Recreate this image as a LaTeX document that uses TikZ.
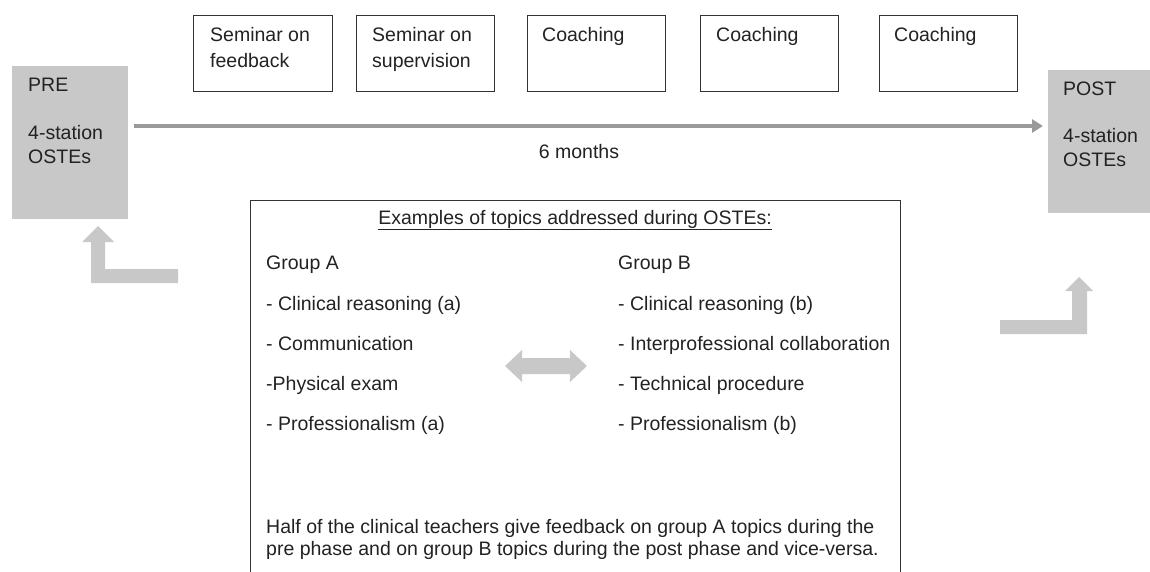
\documentclass[tikz,border=0pt]{standalone}
\usepackage{fontspec}
\setmainfont{Liberation Sans}
\usetikzlibrary{calc,arrows.meta}
\definecolor{boxgray}{HTML}{C8C8C8}
\definecolor{linegray}{HTML}{9A9A9A}
\definecolor{ink}{HTML}{222222}
\definecolor{framecol}{HTML}{333333}
\begin{document}
\begin{tikzpicture}[x=1pt,y=-1pt,
  txt/.style={font=\fontsize{19.5}{24}\selectfont, text=ink, inner sep=0pt, anchor=base west},
  topbox/.style={draw=framecol, line width=1pt, minimum width=138pt, minimum height=76pt, anchor=north west, inner sep=0pt},
  phase/.style={fill=boxgray, anchor=north west, inner sep=0pt},
  fatarrow/.style={fill=boxgray, draw=none},
  mainarrow/.style={draw=linegray, line width=4pt, -{Triangle[length=11pt,width=13pt]}},
  framepath/.style={draw=framecol, line width=1pt},
]
\useasboundingbox (0,0) rectangle (1150,572);

% pre and post measurement phases
\node[phase, minimum width=116pt, minimum height=153pt] (pre) at (12,66) {};
\node[phase, minimum width=102pt, minimum height=143pt] (post) at (1048,70) {};
\node[txt] (preA) at ($(pre.north west)+(16,26)$) {PRE};
\node[txt] (preB) at ($(pre.north west)+(16,74)$) {4-station};
\node[txt] (preC) at ($(pre.north west)+(16,98)$) {OSTEs};
\node[txt] (postA) at ($(post.north west)+(15,26)$) {POST};
\node[txt] (postB) at ($(post.north west)+(15,73)$) {4-station};
\node[txt] (postC) at ($(post.north west)+(15,97)$) {OSTEs};

% training activities
\node[topbox, minimum width=139pt] (s1) at (193,15) {};
\node[topbox] (s2) at (356,15) {};
\node[topbox] (s3) at (527,15) {};
\node[topbox] (s4) at (700,15) {};
\node[topbox] (s5) at (879,15) {};
\node[txt] (s1a) at ($(s1.north west)+(17,27)$) {Seminar on};
\node[txt] (s1b) at ($(s1.north west)+(17,53)$) {feedback};
\node[txt] (s2a) at ($(s2.north west)+(16,27)$) {Seminar on};
\node[txt] (s2b) at ($(s2.north west)+(16,53)$) {supervision};
\node[txt] (s3a) at ($(s3.north west)+(15,27)$) {Coaching};
\node[txt] (s4a) at ($(s4.north west)+(16,27)$) {Coaching};
\node[txt] (s5a) at ($(s5.north west)+(15,27)$) {Coaching};

% time line
\coordinate (ly) at (0,126);
\draw[mainarrow, shorten <=6pt, shorten >=5pt] (pre.east |- ly) -- (post.west |- ly);
\node[txt, anchor=base] (months) at (579,159) {6 months};

% topics frame, open at the bottom
\coordinate (fl) at (250,572);
\coordinate (fr) at (900,572);
\draw[framepath] (fl) |- (900,200) -- (fr);
\node[txt, anchor=base] (title) at (575,224) {\underline{Examples of topics addressed during OSTEs:}};
\node[txt] (ga) at (266,269) {Group A};
\node[txt] (gb) at (618,269) {Group B};
\node[txt] (a1) at (266,310) {- Clinical reasoning (a)};
\node[txt] (a2) at (266,350) {- Communication};
\node[txt] (a3) at (266,390) {-Physical exam};
\node[txt] (a4) at (266,430) {- Professionalism (a)};
\node[txt] (b1) at (618,310) {- Clinical reasoning (b)};
\node[txt] (b2) at (618,350) {- Interprofessional collaboration};
\node[txt] (b3) at (618,390) {- Technical procedure};
\node[txt] (b4) at (618,430) {- Professionalism (b)};
\node[txt] (n1) at (266,533) {Half of the clinical teachers give feedback on group A topics during the};
\node[txt] (n2) at (266,555) {pre phase and on group B topics during the post phase and vice-versa.};

% exchange between the two groups
\fill[fatarrow] (505,366) -- (522,350) -- (522,358) -- (570,358) -- (570,350) -- (587,366)
  -- (570,382) -- (570,374) -- (522,374) -- (522,382) -- cycle;

% bent arrows into the phases
\fill[fatarrow] (91,283) -- (91,242) -- (82,242) -- (98,226) -- (114,242) -- (105,242)
  -- (105,269) -- (178,269) -- (178,283) -- cycle;
\fill[fatarrow] (1000,320) -- (1072,320) -- (1072,291) -- (1065,291) -- (1079,277)
  -- (1093,291) -- (1087,291) -- (1087,334) -- (1000,334) -- cycle;
\end{tikzpicture}
\end{document}
